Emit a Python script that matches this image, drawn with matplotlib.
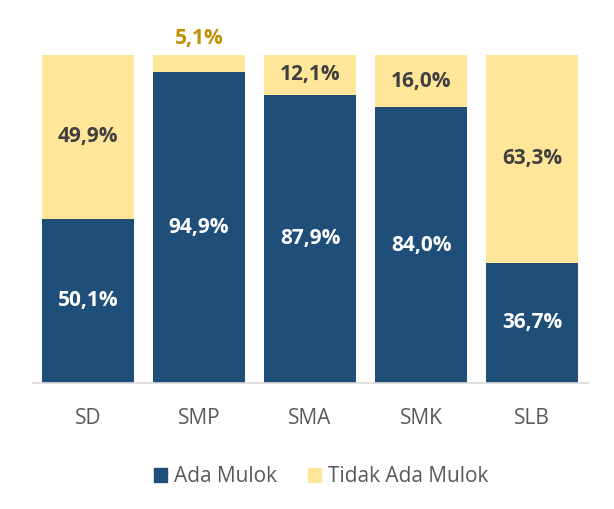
import matplotlib
matplotlib.use("Agg")
import matplotlib.pyplot as plt
from matplotlib.patches import Patch

plt.rcParams["font.family"] = ["Open Sans", "DejaVu Sans"]

categories = ["SD", "SMP", "SMA", "SMK", "SLB"]
ada = [50.1, 94.9, 87.9, 84.0, 36.7]
tidak = [49.9, 5.1, 12.1, 16.0, 63.3]

BLUE = "#1F4E79"
YELLOW = "#FFE699"

fig = plt.figure(figsize=(6.14, 5.09), dpi=100)
ax = fig.add_axes([0.053, 0.2475, 0.904, 0.6445])

x = list(range(len(categories)))
ax.bar(x, ada, width=0.83, color=BLUE)
ax.bar(x, tidak, width=0.83, bottom=ada, color=YELLOW)

def fmt(v):
    return f"{v:.1f}%".replace(".", ",")

for i, (a, t) in enumerate(zip(ada, tidak)):
    ax.text(i, a / 2, fmt(a), ha="center", va="center", color="white",
            fontsize=15, fontweight="bold")
    if t < 8:
        ax.text(i, a + t + 1.8, fmt(t), ha="center", va="bottom", color="#BF9000",
                fontsize=15, fontweight="bold")
    else:
        ax.text(i, a + t / 2, fmt(t), ha="center", va="center", color="#404040",
                fontsize=15, fontweight="bold")

ax.set_xlim(-0.5, 4.5)
ax.set_ylim(0, 100)
ax.set_xticks(x)
ax.set_xticklabels(categories, fontsize=15, color="#595959")
ax.tick_params(axis="x", length=0, pad=18)
ax.set_yticks([])
for s in ["top", "right", "left"]:
    ax.spines[s].set_visible(False)
ax.spines["bottom"].set_color("#D9D9D9")
ax.spines["bottom"].set_linewidth(1.2)

handles = [Patch(color=BLUE, label="Ada Mulok"), Patch(color=YELLOW, label="Tidak Ada Mulok")]
leg = fig.legend(handles=handles, loc="center", bbox_to_anchor=(0.523, 0.063), ncol=2,
                 frameon=False, fontsize=15, handlelength=0.6, handleheight=0.6,
                 columnspacing=1.5, handletextpad=0.35)
for t in leg.get_texts():
    t.set_color("#595959")

fig.savefig("out.png", dpi=100)
